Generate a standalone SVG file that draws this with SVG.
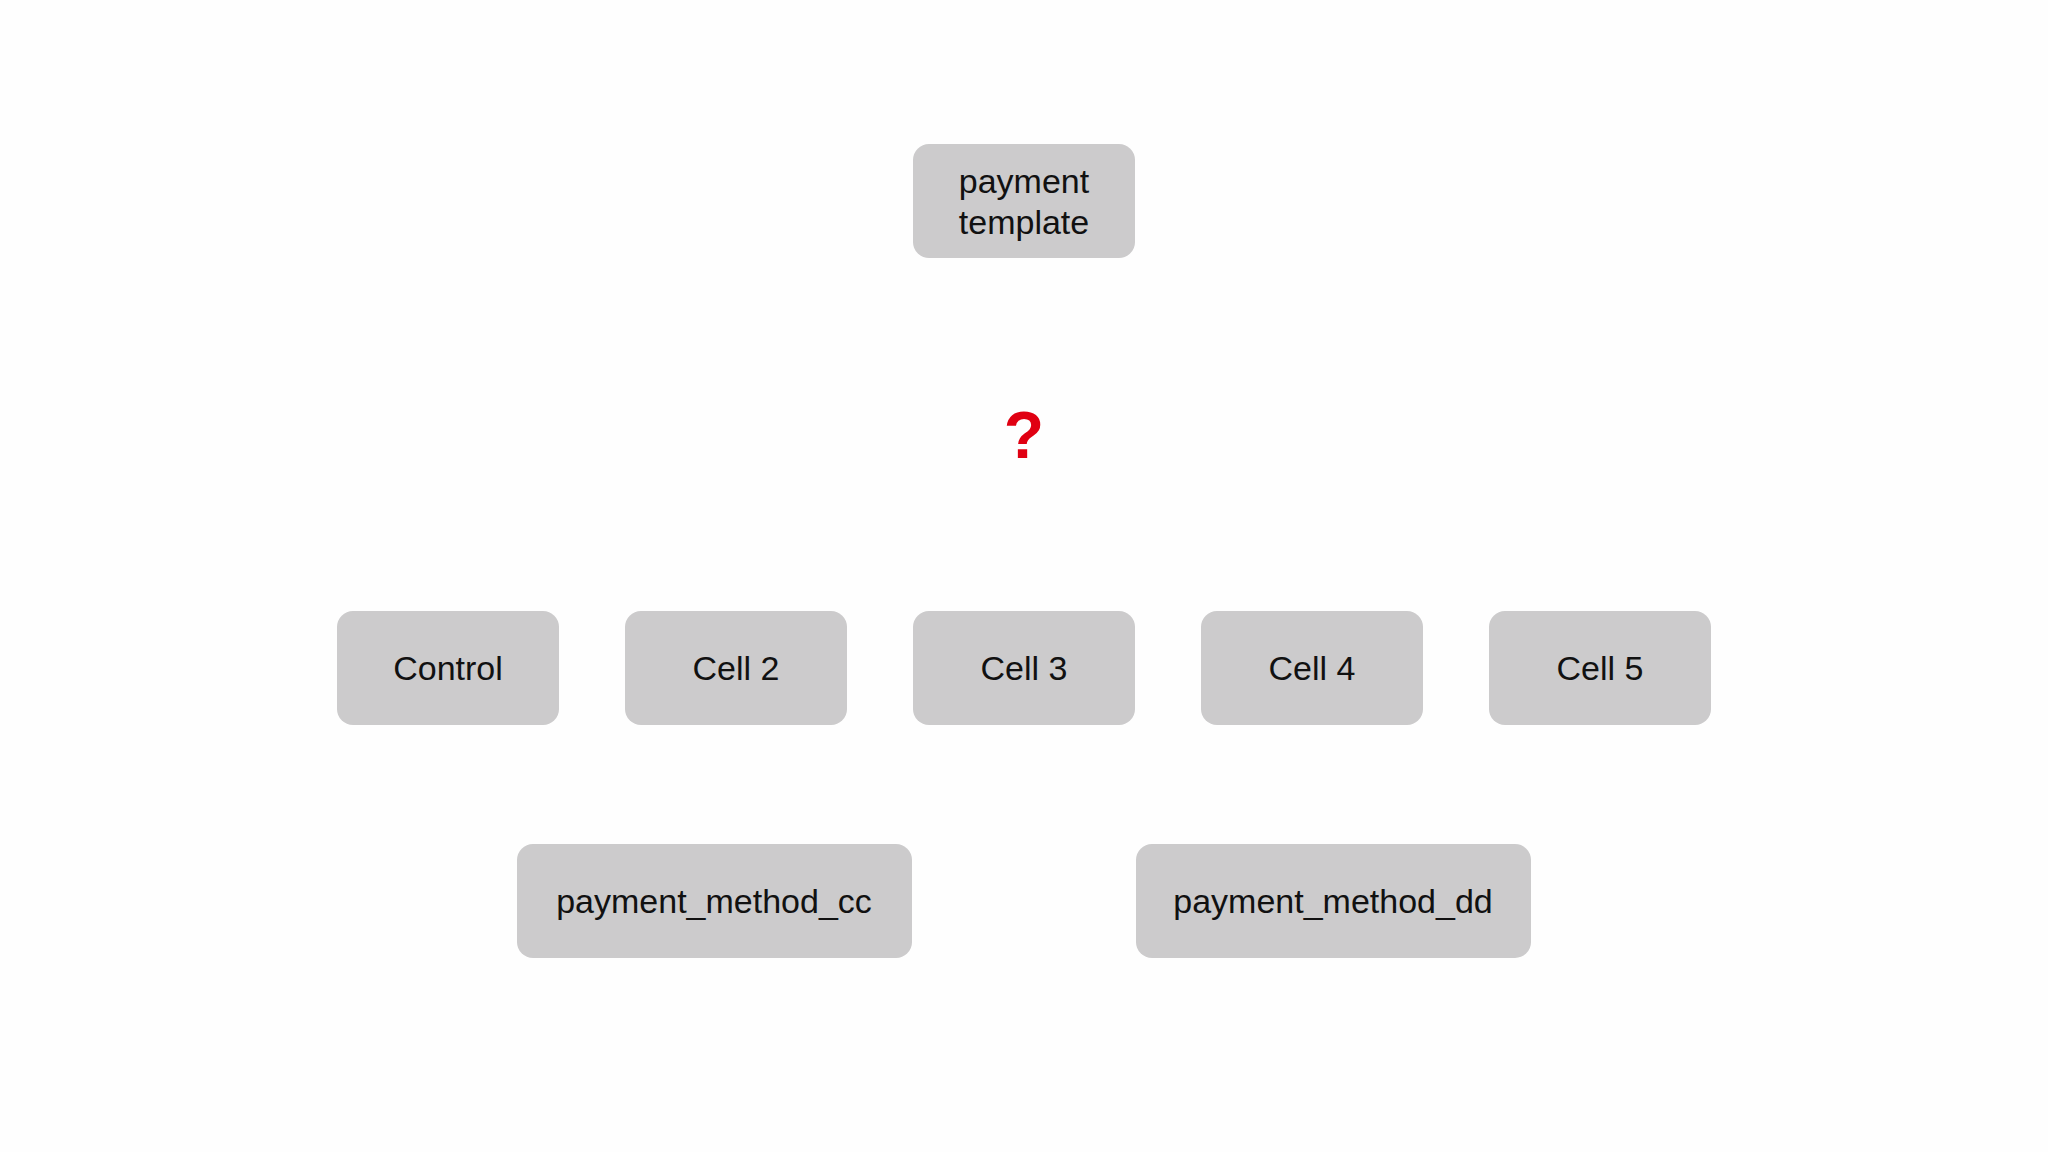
<svg xmlns="http://www.w3.org/2000/svg" width="2048" height="1152" viewBox="0 0 2048 1152">
<style>
.n{fill:#cccbcc}
.t{font-family:"Liberation Sans",Arial,sans-serif;font-size:34px;fill:#111;text-anchor:middle}
</style>
<rect width="2048" height="1152" fill="#fefefe"/>
<g id="connectors"></g>
<g id="top"><rect class="n" x="913" y="144" width="222" height="114" rx="16"/><text class="t" x="1024" y="193">payment</text><text class="t" x="1024" y="234">template</text></g>
<g id="q"><text x="1024" y="458" font-family="Liberation Sans,Arial,sans-serif" font-size="66" font-weight="bold" fill="#e00012" text-anchor="middle">?</text></g>
<g id="control"><rect class="n" x="337" y="611" width="222" height="114" rx="16"/><text class="t" x="448" y="680">Control</text></g>
<g id="cell2"><rect class="n" x="625" y="611" width="222" height="114" rx="16"/><text class="t" x="736" y="680">Cell 2</text></g>
<g id="cell3"><rect class="n" x="913" y="611" width="222" height="114" rx="16"/><text class="t" x="1024" y="680">Cell 3</text></g>
<g id="cell4"><rect class="n" x="1201" y="611" width="222" height="114" rx="16"/><text class="t" x="1312" y="680">Cell 4</text></g>
<g id="cell5"><rect class="n" x="1489" y="611" width="222" height="114" rx="16"/><text class="t" x="1600" y="680">Cell 5</text></g>
<g id="cc"><rect class="n" x="517" y="844" width="395" height="114" rx="16"/><text class="t" x="714" y="913">payment_method_cc</text></g>
<g id="dd"><rect class="n" x="1136" y="844" width="395" height="114" rx="16"/><text class="t" x="1333" y="913">payment_method_dd</text></g>
</svg>
